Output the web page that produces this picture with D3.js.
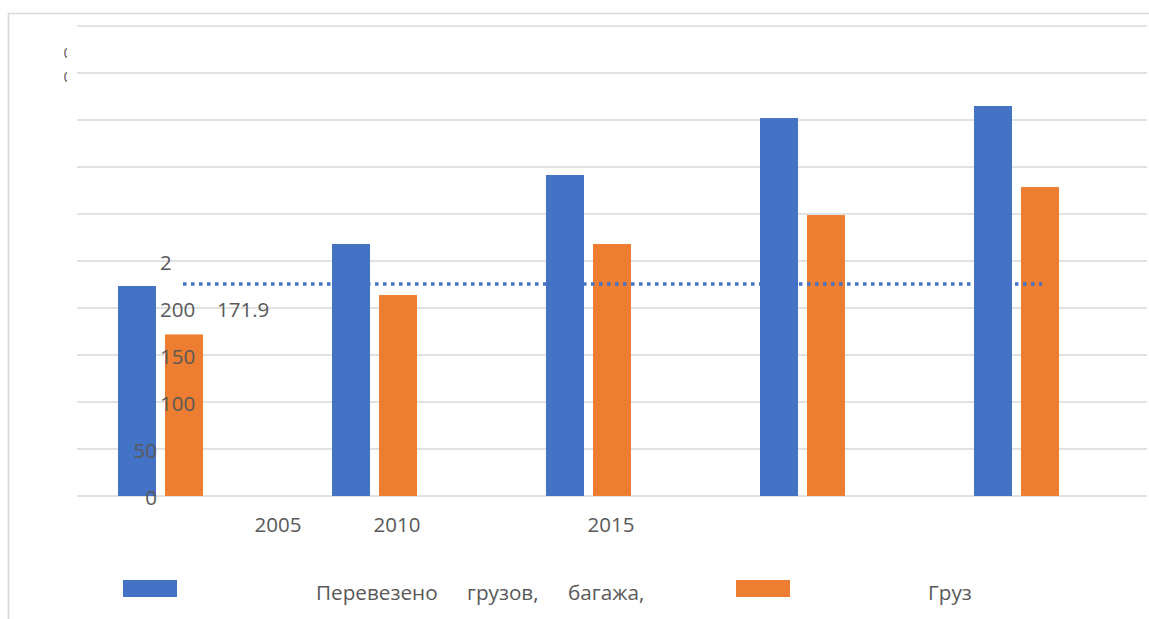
<!DOCTYPE html>
<html>
<head>
<meta charset="utf-8">
<script src="https://cdn.jsdelivr.net/npm/d3@7/dist/d3.min.js"></script>
<style>
  body { margin: 0; background: #fff; }
  svg { display: block; }
  text { font-family: "Open Sans", "Noto Sans", sans-serif; fill: #595959; }
</style>
</head>
<body>
<svg id="chart" width="1149" height="619"></svg>
<script>
// Category slots along the x axis and the year captions shown under them
const categories = [0, 1, 2, 3, 4];
const xTickLabels = ["2005", "2010", "2015", "", ""];

// Series values
const cargoTotal = [223.4, 268.1, 341.5, 402.1, 414.9];   // Перевезено грузов, багажа, ...
const cargoOnly  = [171.9, 213.8, 268.1, 298.9, 328.7];   // Груз
const refLevel   = [225.5, 225.5, 225.5, 225.5, 225.5];   // dotted level line

// Value axis ticks
const yTicks = [0, 50, 100, 150, 200, 250, 300, 350, 400, 450, 500];
const yTickLabelsShown = [0, 50, 100, 150, 200, 250];

const legendItems = ["Перевезено грузов, багажа,", "Груз"];
const colors = { total: "#4472C4", cargo: "#ED7D31", grid: "#D9D9D9" };

const svg = d3.select("#chart");
const W = 1149, H = 619;
const plot = { left: 77, right: 1147, top: 26, bottom: 496 };

const x = d3.scaleBand().domain(categories).range([plot.left, plot.right]);
const y = d3.scaleLinear().domain([0, 500]).range([plot.bottom, plot.top]);
const barW = 38, blueOff = 41, orangeOff = 88;

// Chart area frame (left and top edges visible)
svg.append("path")
  .attr("d", `M8.5,${H} V13.5 H${W}`)
  .attr("fill", "none").attr("stroke", colors.grid).attr("stroke-width", 1.6);

// Horizontal gridlines
svg.append("g").selectAll("line").data(yTicks).join("line")
  .attr("x1", plot.left).attr("x2", plot.right)
  .attr("y1", d => y(d)).attr("y2", d => y(d))
  .attr("stroke", colors.grid).attr("stroke-width", 1.3);

// Orange bars (behind the dotted line)
svg.append("g").selectAll("rect").data(cargoOnly).join("rect")
  .attr("x", (d, i) => x(categories[i]) + orangeOff)
  .attr("width", barW)
  .attr("y", d => y(d))
  .attr("height", d => y(0) - y(d))
  .attr("fill", colors.cargo);

// Dotted level line
const lvl = d3.line()
  .x((d, i) => x(categories[i]) + x.bandwidth() / 2 - 1 + (i === categories.length - 1 ? 3 : 0))
  .y(d => y(d));
svg.append("path")
  .datum(refLevel)
  .attr("d", lvl)
  .attr("fill", "none")
  .attr("stroke", colors.total)
  .attr("stroke-width", 3.5)
  .attr("stroke-dasharray", "3.5,4.5");

// Blue bars (in front of the dotted line)
svg.append("g").selectAll("rect").data(cargoTotal).join("rect")
  .attr("x", (d, i) => x(categories[i]) + blueOff)
  .attr("width", barW)
  .attr("y", d => y(d))
  .attr("height", d => y(0) - y(d))
  .attr("fill", colors.total);

// Value axis labels
const defs = svg.append("defs");
defs.append("clipPath").attr("id", "clip250")
  .append("rect").attr("x", 150).attr("y", y(250) - 15).attr("width", 21).attr("height", 30);
defs.append("clipPath").attr("id", "clipTop")
  .append("rect").attr("x", 64).attr("y", 40).attr("width", 3).attr("height", 50);

const yl = svg.append("g").style("font-size", "20.5px");
yl.selectAll("text").data(yTickLabelsShown).join("text")
  .attr("x", d => d <= 50 ? 157 : 160)
  .attr("y", d => y(d) + 1.5)
  .attr("dy", "0.35em")
  .attr("text-anchor", d => d <= 50 ? "end" : "start")
  .attr("clip-path", d => d === 250 ? "url(#clip250)" : null)
  .text(d => d);

// Fragments of the upper labels, cut off at the left edge
const topFrag = svg.append("g").attr("clip-path", "url(#clipTop)").style("font-size", "15px");
topFrag.selectAll("text").data([500, 450]).join("text")
  .attr("x", 63.5)
  .attr("y", (d, i) => y(d) + (i === 0 ? 27 : 4))
  .attr("dy", "0.35em")
  .text(d => String(d).slice(-1));

// Data label for the first orange bar
svg.append("text")
  .attr("x", x(categories[0]) + orangeOff + barW + 14)
  .attr("y", y(cargoOnly[0]) - 25)
  .attr("dy", "0.35em")
  .style("font-size", "20.5px")
  .text(d3.format(".1f")(cargoOnly[0]));

// Category axis captions
const xAxis = d3.axisBottom(x).tickSize(0).tickPadding(0).tickFormat((d, i) => xTickLabels[i]);
const gx = svg.append("g").attr("transform", `translate(0, ${plot.bottom + 21})`).call(xAxis);
gx.select(".domain").remove();
gx.selectAll("text")
  .style("font-size", "20.5px").style("font-family", '"Open Sans", sans-serif').attr("fill", "#595959")
  .attr("dx", (d, i) => i === 0 ? 94 : -1);

// Legend
const lg = svg.append("g").style("font-size", "20.7px");
lg.append("rect").attr("x", 123).attr("y", 580).attr("width", 54).attr("height", 17).attr("fill", colors.total);
lg.append("text").attr("x", 316).attr("y", 600).attr("word-spacing", "24px").text(legendItems[0]);
lg.append("rect").attr("x", 736).attr("y", 580).attr("width", 54).attr("height", 17).attr("fill", colors.cargo);
lg.append("text").attr("x", 928).attr("y", 600).text(legendItems[1]);
</script>
</body>
</html>
